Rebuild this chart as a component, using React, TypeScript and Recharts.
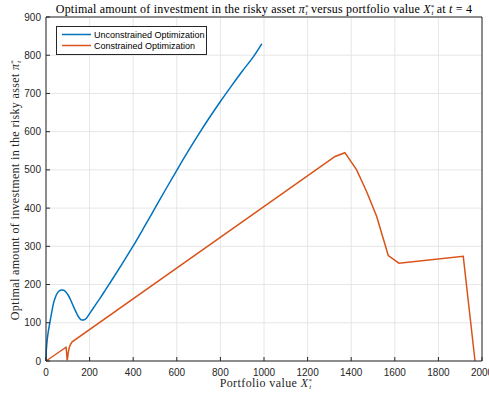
import { LineChart, Line, XAxis, YAxis, CartesianGrid, Legend } from 'recharts'

const AXIS = '#262626'
const GRID = '#e6e6e6'
const SANS = '"Liberation Sans", Arial, sans-serif'
const SERIF = '"Liberation Serif", "Times New Roman", serif'

const xTicks = [0, 200, 400, 600, 800, 1000, 1200, 1400, 1600, 1800, 2000]
const yTicks = [0, 100, 200, 300, 400, 500, 600, 700, 800, 900]

const seriesNames = ['Unconstrained Optimization', 'Constrained Optimization']

// unconstrained optimization
const unconX = [0, 1, 3, 6, 10, 15, 20, 27, 34, 42, 50, 60, 72, 82, 92, 102, 112, 122, 132, 142, 152, 164, 176, 188, 200, 225, 250, 275, 300, 350, 400, 450, 500, 550, 600, 650, 700, 750, 800, 850, 900, 950, 990]
const unconY = [0, 22, 40, 58, 75, 92, 108, 130, 150, 165, 176, 183, 186, 185, 180, 172, 161, 148, 135, 123, 113, 107, 108, 114, 124, 145, 166, 188, 210, 255, 301, 350, 400, 450, 499, 547, 593, 637, 679, 719, 758, 795, 830]

// constrained optimization
const conX = [0, 92, 95, 97, 99, 102, 106, 112, 120, 1326, 1371, 1425, 1471, 1517, 1570, 1619, 1914, 1968]
const conY = [0, 36, 18, 2, 8, 22, 34, 43, 50, 535, 545, 500, 443, 378, 276, 256, 274, 0]

const unconData = unconX.map((x, i) => ({ x, y: unconY[i] }))
const conData = conX.map((x, i) => ({ x, y: conY[i] }))

function BottomTick({ x, y, payload }: any) {
  return (
    <g>
      <line x1={x} y1={y} x2={x} y2={y - 4} stroke={AXIS} />
      <text x={x} y={y + 15} textAnchor="middle" fontSize={10} fill={AXIS} fontFamily={SANS}>
        {payload.value}
      </text>
    </g>
  )
}

function LeftTick({ x, y, payload }: any) {
  return (
    <g>
      <line x1={x} y1={y} x2={x + 4} y2={y} stroke={AXIS} />
      <text x={x - 5} y={y + 3.5} textAnchor="end" fontSize={10} fill={AXIS} fontFamily={SANS}>
        {payload.value}
      </text>
    </g>
  )
}

function TopTick({ x, y }: any) {
  return <line x1={x} y1={y} x2={x} y2={y + 4} stroke={AXIS} />
}

function RightTick({ x, y }: any) {
  return <line x1={x} y1={y} x2={x - 4} y2={y} stroke={AXIS} />
}

function TitleText() {
  return (
    <text x={264} y={13} textAnchor="middle" fontSize={12} letterSpacing={0.2} fill="#000" fontFamily={SERIF}>
      {'Optimal amount of investment in the risky asset '}
      <tspan fontStyle="italic">π</tspan>
      <tspan fontSize={7} dy={-4}>*</tspan>
      <tspan fontSize={7} fontStyle="italic" dx={-3} dy={6}>t</tspan>
      <tspan dy={-2}>{' versus portfolio value '}</tspan>
      <tspan fontStyle="italic">X</tspan>
      <tspan fontSize={7} dy={-4}>*</tspan>
      <tspan fontSize={7} fontStyle="italic" dx={-3} dy={6}>t</tspan>
      <tspan dy={-2}>{' at '}</tspan>
      <tspan fontStyle="italic">t</tspan>
      {' = 4'}
    </text>
  )
}

function XLabel() {
  return (
    <text x={266} y={387} textAnchor="middle" fontSize={12} letterSpacing={0.4} fill={AXIS} fontFamily={SERIF}>
      {'Portfolio value '}
      <tspan fontStyle="italic">X</tspan>
      <tspan fontSize={7} dy={-4}>*</tspan>
      <tspan fontSize={7} fontStyle="italic" dx={-3} dy={6}>t</tspan>
    </text>
  )
}

function YLabel() {
  return (
    <text transform="rotate(-90)" x={-190} y={19} textAnchor="middle" fontSize={12} letterSpacing={0.35} fill={AXIS} fontFamily={SERIF}>
      {'Optimal amount of investment in the risky asset '}
      <tspan fontStyle="italic">π</tspan>
      <tspan fontSize={7} dy={-4}>*</tspan>
      <tspan fontSize={7} fontStyle="italic" dx={-3} dy={6}>t</tspan>
    </text>
  )
}

function LegendBox({ payload }: any) {
  const items = [...(payload || [])].sort(
    (a: any, b: any) => seriesNames.indexOf(a.value) - seriesNames.indexOf(b.value)
  )
  return (
    <svg width={151} height={29}>
      <rect x={0.5} y={0.5} width={150} height={28} fill="#fff" stroke={AXIS} />
      {items.map((p: any, i: number) => (
        <g key={i}>
          <line x1={6} x2={35} y1={8.5 + i * 11} y2={8.5 + i * 11} stroke={p.color} strokeWidth={1.5} />
          <text x={38} y={11.5 + i * 11} fontSize={9} fill="#000" fontFamily={SANS}>
            {p.value}
          </text>
        </g>
      ))}
    </svg>
  )
}

export default function App() {
  return (
    <div style={{ position: 'absolute', left: 0, top: 0, width: 489, height: 398, overflow: 'hidden', background: '#fff' }}>
      <LineChart width={489} height={398} margin={{ top: 0, right: 0, bottom: 0, left: 0 }}>
        <CartesianGrid stroke={GRID} />
        <XAxis
          type="number"
          dataKey="x"
          domain={[0, 2000]}
          ticks={xTicks}
          interval={0}
          height={37}
          tickSize={0}
          tickMargin={0}
          tickLine={false}
          axisLine={{ stroke: AXIS }}
          tick={<BottomTick />}
          label={<XLabel />}
        />
        <XAxis
          xAxisId="top"
          orientation="top"
          type="number"
          domain={[0, 2000]}
          ticks={xTicks}
          interval={0}
          height={17}
          tickSize={0}
          tickMargin={0}
          tickLine={false}
          axisLine={{ stroke: AXIS }}
          tick={<TopTick />}
          label={<TitleText />}
        />
        <YAxis
          type="number"
          domain={[0, 900]}
          ticks={yTicks}
          interval={0}
          width={46}
          tickSize={0}
          tickMargin={0}
          tickLine={false}
          axisLine={{ stroke: AXIS }}
          tick={<LeftTick />}
          label={<YLabel />}
        />
        <YAxis
          yAxisId="right"
          orientation="right"
          type="number"
          domain={[0, 900]}
          ticks={yTicks}
          interval={0}
          width={7}
          tickSize={0}
          tickMargin={0}
          tickLine={false}
          axisLine={{ stroke: AXIS }}
          tick={<RightTick />}
        />
        <Legend
          layout="horizontal"
          verticalAlign="middle"
          align="center"
          content={<LegendBox />}
          wrapperStyle={{ position: 'absolute', left: 56, top: 26, width: 151, height: 29 }}
        />
        <Line
          data={unconData}
          dataKey="y"
          name={seriesNames[0]}
          type="monotone"
          stroke="#0072BD"
          strokeWidth={1.5}
          dot={false}
          isAnimationActive={false}
        />
        <Line
          data={conData}
          dataKey="y"
          name={seriesNames[1]}
          type="linear"
          stroke="#D95319"
          strokeWidth={1.5}
          dot={false}
          isAnimationActive={false}
        />
      </LineChart>
    </div>
  )
}
